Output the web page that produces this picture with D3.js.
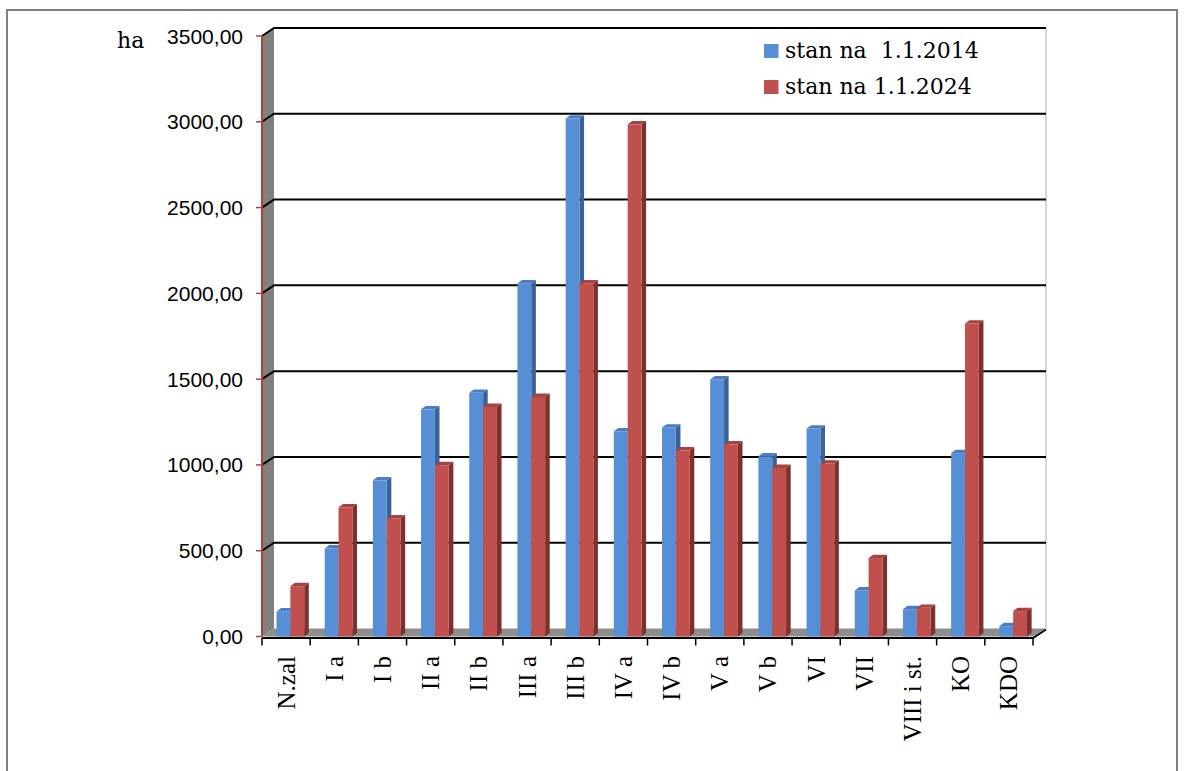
<!DOCTYPE html>
<html><head><meta charset="utf-8">
<script src="https://cdn.jsdelivr.net/npm/d3@7"></script>
<style>html,body{margin:0;padding:0;background:#fff;}svg{display:block;}</style>
</head><body>
<svg id="c" width="1192" height="771"></svg>
<script>
const categories = ["N.zal","I a","I b","II a","II b","III a","III b","IV a","IV b","V a","V b","VI","VII","VIII i st.","KO","KDO"];
const values2014 = [146, 513, 910, 1324, 1420, 2058, 3019, 1196, 1218, 1498, 1050, 1212, 268, 159, 1069, 60];
const values2024 = [293, 753, 688, 998, 1338, 1396, 2058, 2985, 1085, 1120, 982, 1008, 457, 167, 1824, 148];
const seriesNames = ["stan na  1.1.2014", "stan na 1.1.2024"];
const yTicks = [0, 500, 1000, 1500, 2000, 2500, 3000, 3500];

const svg = d3.select("#c");
const DX = 12, DY = -8;         // wall depth
const bdx = 4.6, bdy = -3.4;     // bar depth
const x0 = 262, x1 = 1033;
const y = d3.scaleLinear().domain([0, 3500]).range([636.5, 36]);
const x = d3.scaleBand().domain(categories).range([x0, x1]).paddingInner(0).paddingOuter(0);
const sub = d3.scaleBand().domain([0, 1]).range([14.5, 42.2]).padding(0);

const colors = [
  {front:"#578fd6", side:"#3b6397", top:"#4a7ec4"},
  {front:"#c0504d", side:"#7e302e", top:"#a6423f"}
];

// outer frame
svg.append("path").attr("d", "M7,771 L7,10 L1177,10 L1177,771").attr("fill","none").attr("stroke","#808080").attr("stroke-width",2);

// side wall
svg.append("path")
  .attr("d", `M${x0},${y(3500)} L${x0+DX},${y(3500)+DY} L${x0+DX},${y(0)+DY} L${x0},${y(0)} Z`)
  .attr("fill", "#808080");
// back wall right edge
svg.append("line").attr("x1", x1+DX+1).attr("x2", x1+DX+1).attr("y1", y(3500)+DY).attr("y2", y(0)+DY)
  .attr("stroke", "#c8c8c8").attr("stroke-width", 1.5);

// gridlines
yTicks.filter(v => v > 0).forEach(v => {
  svg.append("path")
    .attr("d", `M${x0},${y(v)} L${x0+DX},${y(v)+DY} L${x1+DX+1},${y(v)+DY}`)
    .attr("fill","none").attr("stroke","#000").attr("stroke-width",2);
});

// floor
svg.append("path")
  .attr("d", `M${x0},${y(0)} L${x0+DX},${y(0)+DY} L${x1+DX+1},${y(0)+DY} L${x1},${y(0)} Z`)
  .attr("fill", "#8e8e8e");

// bars
function drawBar(g, xl, w, v, c) {
  const yb = y(0), yt = y(v);
  g.append("path").attr("d", `M${xl+w},${yb} L${xl+w+bdx},${yb+bdy} L${xl+w+bdx},${yt+bdy} L${xl+w},${yt} Z`).attr("fill", c.side);
  g.append("rect").attr("x", xl).attr("y", yt).attr("width", w).attr("height", yb - yt).attr("fill", c.front);
  g.append("path").attr("d", `M${xl},${yt} L${xl+bdx},${yt+bdy} L${xl+w+bdx},${yt+bdy} L${xl+w},${yt} Z`).attr("fill", c.top);
}
const gb = svg.append("g");
categories.forEach((cat, i) => {
  [values2014[i], values2024[i]].forEach((v, s) => {
    drawBar(gb, x(cat) + sub(s), sub.bandwidth(), v, colors[s]);
  });
});

// x axis line + floor right edge
svg.append("path").attr("d", `M${x0},${y(0)+1.5} L${x1},${y(0)+1.5} L${x1+DX+1},${y(0)+DY+1}`)
  .attr("fill","none").attr("stroke","#000").attr("stroke-width",2);
// x ticks
const bounds = categories.map(c => x(c)).concat([x1]);
svg.selectAll(".xt").data(bounds).join("line")
  .attr("x1", d => d).attr("x2", d => d).attr("y1", y(0)+1.5).attr("y2", y(0)+9)
  .attr("stroke","#000").attr("stroke-width",1.5);
// x labels
svg.selectAll(".xl").data(categories).join("text")
  .attr("transform", d => `translate(${x(d) + x.bandwidth()/2 + 8.5},656) rotate(-90)`)
  .attr("text-anchor","end")
  .attr("font-family","'Liberation Serif', serif").attr("font-size", 25)
  .attr("fill","#000")
  .text(d => d);

// y axis
svg.append("line").attr("x1", x0).attr("x2", x0).attr("y1", y(3500)).attr("y2", y(0))
  .attr("stroke","#b0403d").attr("stroke-width",2);
svg.selectAll(".yt").data(yTicks).join("line")
  .attr("x1", x0-6).attr("x2", x0).attr("y1", d => y(d)).attr("y2", d => y(d))
  .attr("stroke","#b0403d").attr("stroke-width",1.5);
const fmt = d3.format(".2f");
svg.selectAll(".yl").data(yTicks).join("text")
  .attr("x", 243).attr("y", d => y(d)).attr("dy","0.36em")
  .attr("text-anchor","end")
  .attr("font-family","'Liberation Sans', Arial, sans-serif").attr("font-size", 21)
  .attr("fill","#000")
  .text(d => fmt(d).replace(".", ","));

// unit
svg.append("text").attr("x", 117).attr("y", 48)
  .attr("font-family","'DejaVu Serif', serif").attr("font-size", 22).attr("fill","#000").text("ha");

// legend
const lg = svg.append("g");
seriesNames.forEach((n, i) => {
  lg.append("rect").attr("x", 764).attr("y", 44 + i*36).attr("width", 14.5).attr("height", 14).attr("fill", colors[i].front);
  lg.append("text").attr("x", 785).attr("y", 58 + i*35.5)
    .attr("xml:space","preserve").style("white-space","pre")
    .attr("font-family","'DejaVu Serif', serif").attr("font-size", 22).attr("fill","#000")
    .text(n);
});
</script>
</body></html>
